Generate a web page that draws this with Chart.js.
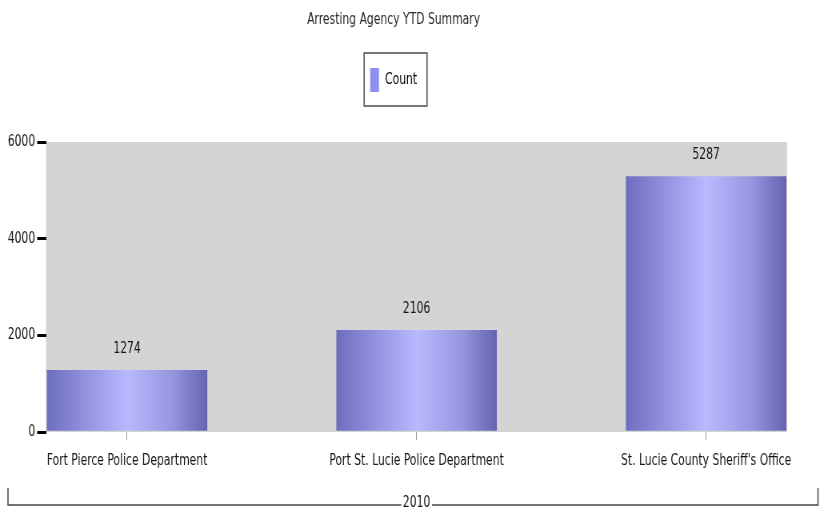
<!DOCTYPE html>
<html lang="en">
<head>
  <meta charset="UTF-8" />
  <title>Arresting Agency YTD Summary</title>
  <script src="https://cdn.jsdelivr.net/npm/chart.js"></script>
  <style>
    body {
      margin: 0;
      background: #fff;
      overflow: hidden;
    }
    /* the original chart is horizontally squeezed, so draw wide and squeeze */
    .wrap {
      width: 1034px;
      height: 515px;
      transform: scaleX(0.8);
      transform-origin: 0 0;
    }
  </style>
</head>
<body>
  <div class="wrap">
    <canvas id="agencyChart"></canvas>
  </div>

  <script>
    const agencies = ['Fort Pierce Police Department', 'Port St. Lucie Police Department', "St. Lucie County Sheriff's Office"];
    const counts = [1274, 2106, 5287];
    const yTicks = [0, 2000, 4000, 6000];
    const yearLabel = '2010';

    const FONT = "'DejaVu Sans Condensed', 'Liberation Sans Narrow', sans-serif";
    Chart.defaults.font.family = FONT;
    Chart.defaults.color = '#151515';

    const BAR_W = 200;

    // gray plot wall behind the bars
    const plotBg = {
      id: 'plotBg',
      beforeDraw(chart) {
        const { ctx, chartArea: a } = chart;
        ctx.save();
        ctx.fillStyle = '#d4d4d4';
        ctx.fillRect(a.left, a.top, a.right - a.left, a.bottom - a.top);
        ctx.restore();
      }
    };

    // extra room under the legend
    const legendGap = {
      id: 'legendGap',
      beforeInit(chart) {
        const fit = chart.legend.fit;
        chart.legend.fit = function () {
          fit.bind(chart.legend)();
          this.height += 40;
        };
      }
    };

    // frame round the legend item
    const legendFrame = {
      id: 'legendFrame',
      afterDraw(chart) {
        const hb = chart.legend.legendHitBoxes[0];
        if (!hb) return;
        const { ctx } = chart;
        ctx.save();
        ctx.strokeStyle = '#555';
        ctx.lineWidth = 1.6;
        ctx.strokeRect(hb.left - 7.5, hb.top - 15, hb.width + 20, hb.height + 29);
        ctx.restore();
      }
    };

    // values over the bars
    const barValues = {
      id: 'barValues',
      afterDatasetsDraw(chart) {
        const { ctx } = chart;
        const meta = chart.getDatasetMeta(0);
        ctx.save();
        ctx.font = '15px ' + FONT;
        ctx.fillStyle = '#151515';
        ctx.textAlign = 'center';
        ctx.textBaseline = 'middle';
        meta.data.forEach((bar, i) => {
          ctx.fillText(counts[i], bar.x, bar.y - 21);
        });
        ctx.restore();
      }
    };

    // bracket line around the "2010" group label
    const yearBracket = {
      id: 'yearBracket',
      afterDraw(chart) {
        const { ctx } = chart;
        const xs = chart.scales.x;
        const cx = (xs.left + xs.right) / 2;
        const y = chart.height - 10;
        ctx.save();
        ctx.font = '15px ' + FONT;
        const half = ctx.measureText(yearLabel).width / 2 + 2;
        ctx.strokeStyle = '#444';
        ctx.lineWidth = 1.5;
        ctx.beginPath();
        ctx.moveTo(10, y - 17);
        ctx.lineTo(10, y);
        ctx.lineTo(cx - half, y);
        ctx.moveTo(cx + half, y);
        ctx.lineTo(chart.width - 11.5, y);
        ctx.lineTo(chart.width - 11.5, y - 17);
        ctx.stroke();
        ctx.restore();
      }
    };

    function barFill(c) {
      const chart = c.chart;
      if (!chart.chartArea || !chart.scales.x) return '#9a9ae8';
      const cx = chart.scales.x.getPixelForValue(c.dataIndex);
      const g = chart.ctx.createLinearGradient(cx - BAR_W / 2, 0, cx + BAR_W / 2, 0);
      g.addColorStop(0, '#6e6ebe');
      g.addColorStop(0.2, '#8c8cda');
      g.addColorStop(0.5, '#b9b9ff');
      g.addColorStop(0.78, '#9797e0');
      g.addColorStop(1, '#6464b0');
      return g;
    }

    new Chart(document.getElementById('agencyChart'), {
      type: 'bar',
      data: {
        datasets: [{
          label: 'Count',
          data: counts.map((v, i) => ({ x: i, y: v })),
          backgroundColor: barFill,
          borderWidth: 0,
          barThickness: BAR_W
        }]
      },
      options: {
        responsive: true,
        maintainAspectRatio: false,
        animation: false,
        layout: { padding: { left: 0, right: 50, top: 0, bottom: 0 } },
        plugins: {
          title: {
            display: true,
            text: 'Arresting Agency YTD Summary',
            color: '#2a2a2a',
            font: { size: 15, weight: 'normal' },
            padding: { top: 11, bottom: 29 }
          },
          legend: {
            display: true,
            labels: {
              boxWidth: 11,
              boxHeight: 24,
              padding: 10,
              font: { size: 15 },
              generateLabels: chart => [{
                text: chart.data.datasets[0].label,
                fillStyle: '#8f8ff2',
                strokeStyle: '#8f8ff2',
                lineWidth: 0,
                datasetIndex: 0,
                hidden: false
              }]
            },
            onClick: null
          },
          tooltip: { enabled: false }
        },
        scales: {
          x: {
            type: 'linear',
            offset: false,
            min: -0.28,
            max: 2.28,
            afterBuildTicks: scale => {
              scale.ticks = agencies.map((_, i) => ({ value: i }));
            },
            afterFit: scale => { scale.height = 83; },
            ticks: {
              autoSkip: false,
              maxRotation: 0,
              padding: 12,
              font: { size: 15 },
              callback: v => agencies[v]
            },
            grid: { offset: false, drawOnChartArea: false, tickLength: 8, color: '#999', lineWidth: 1 },
            border: { display: false },
            title: {
              display: true,
              text: yearLabel,
              font: { size: 15 },
              padding: { top: 0, bottom: 3 }
            }
          },
          y: {
            min: 0,
            max: 6000,
            afterBuildTicks: scale => {
              scale.ticks = yTicks.map(v => ({ value: v }));
            },
            afterFit: scale => { scale.width = 57.5; },
            ticks: { padding: 2.5, font: { size: 15 }, callback: v => String(v) },
            grid: { drawOnChartArea: false, tickLength: 11, color: '#000', lineWidth: 3 },
            border: { display: false }
          }
        }
      },
      plugins: [plotBg, legendGap, legendFrame, barValues, yearBracket]
    });
  </script>
</body>
</html>
